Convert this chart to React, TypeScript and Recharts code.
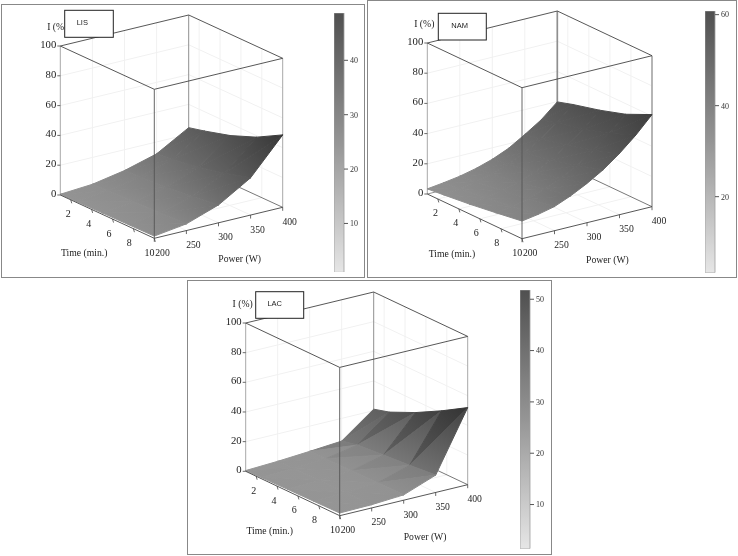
import { Bar, BarChart, Scatter, ScatterChart, XAxis, YAxis } from "recharts"

const WIDTH = 738
const HEIGHT = 556

const TIMES = [1, 2.5, 5, 7.5, 10]
const POWERS = [200, 250, 300, 350, 400]
const NAM_POWERS = [200, 225, 250, 275, 300, 325, 350, 375, 400]
const TIME_TICKS = [2, 4, 6, 8, 10]
const POWER_TICKS = [200, 250, 300, 350, 400]
const I_TICKS = [0, 20, 40, 60, 80, 100]

const LIS_VALUES = [
  [0.5, 2, 6, 12, 24.4],
  [0.7, 2.5, 6.5, 13, 27],
  [1, 3, 7.5, 16, 32],
  [1.2, 3.7, 9.5, 20, 39],
  [1.5, 4.5, 12, 25, 48.6],
]
const NAM_VALUES = [
  [3.4, 4.8, 6.5, 9, 12.4, 17, 23.5, 30.5, 39.8],
  [4.5, 5.8, 7.8, 10.2, 14, 19, 25.5, 33.5, 43],
  [6.5, 7.8, 10, 13, 17, 22.5, 29.5, 37.5, 47.5],
  [9, 10.5, 13, 16.5, 21, 27, 34.5, 43, 53],
  [11.7, 13.5, 16, 20.5, 26, 32.5, 40.6, 50, 61],
]
const LAC_VALUES = [
  [0.5, 1.5, 3, 4.7, 21],
  [0.8, 1.6, 3, 7, 24],
  [1.2, 1.8, 3.2, 8.6, 32],
  [1.5, 1.9, 3.4, 10, 41.5],
  [1.8, 2.2, 3.6, 11.7, 52],
]

const LIS_BAR_TICKS = [10, 20, 30, 40]
const NAM_BAR_TICKS = [20, 40, 60]
const LAC_BAR_TICKS = [10, 20, 30, 40, 50]

const SERIF = "'Liberation Serif', 'Times New Roman', serif"
const SANS = "'Liberation Sans', Arial, sans-serif"

function shade(value, peak, slope) {
  const base = 153 - 73 * (value / peak)
  return base / (1 + 0.6 * slope)
}

function grey(v) {
  const c = Math.round(Math.max(0, Math.min(255, v)))
  return `rgb(${c},${c},${c})`
}

function buildScene(p) {
  const project = (time, power, i) => {
    const u = (power - 200) / 200
    const v = (time - 1) / 9
    return {
      x: p.left.x + v * (p.front.x - p.left.x) + u * (p.right.x - p.front.x),
      y: p.left.y + v * (p.front.y - p.left.y) + u * (p.right.y - p.front.y) - (i * p.depth) / 100,
    }
  }
  const seg = (a, b, stroke, width) => ({
    x: (a.x + b.x) / 2,
    y: (a.y + b.y) / 2,
    dx: (b.x - a.x) / 2,
    dy: (b.y - a.y) / 2,
    stroke,
    width,
  })

  const walls = []
  const FAINT = "#f1f1f1"
  I_TICKS.slice(1, 5).forEach((i) => {
    walls.push(seg(project(1, 200, i), project(1, 400, i), FAINT, 1))
    walls.push(seg(project(1, 400, i), project(10, 400, i), FAINT, 1))
  })
  POWER_TICKS.slice(1, 4).forEach((w) => {
    walls.push(seg(project(1, w, 0), project(1, w, 100), FAINT, 1))
    walls.push(seg(project(1, w, 0), project(10, w, 0), FAINT, 1))
  })
  TIME_TICKS.slice(0, 4).forEach((t) => {
    walls.push(seg(project(t, 400, 0), project(t, 400, 100), FAINT, 1))
    walls.push(seg(project(t, 200, 0), project(t, 400, 0), FAINT, 1))
  })
  walls.push(seg(project(1, 200, 0), project(1, 200, 100), "#a8a8a8", 1))
  walls.push(seg(project(10, 400, 0), project(10, 400, 100), "#a8a8a8", p.sideWidth))
  walls.push(seg(project(1, 400, 0), project(1, 400, 100), "#8f8f8f", p.sideWidth))
  walls.push(seg(project(1, 200, 0), project(1, 400, 0), "#777777", 0.8))
  walls.push(seg(project(1, 400, 0), project(10, 400, 0), "#555555", 0.8))

  const powers = p.powers
  const peak = Math.max(...p.values.flat())
  const step = powers[1] - powers[0]
  const pSlope = (r, c) => {
    const row = p.values[r]
    const left = c > 0 ? row[c] - row[c - 1] : row[c + 1] - row[c]
    const right = c < powers.length - 1 ? row[c + 1] - row[c] : row[c] - row[c - 1]
    return ((left + right) / 2) * (2 / step) * p.vertexPull
  }
  const facets = []
  for (let r = 0; r < TIMES.length - 1; r++) {
    const dv = ((TIMES[r + 1] - TIMES[r]) / 9) * 100
    for (let c = powers.length - 2; c >= 0; c--) {
      const corner = (ri, ci) => {
        const value = p.values[ri][ci]
        const slope = pSlope(ri, ci)
        return { ...project(TIMES[ri], powers[ci], value), value, slope }
      }
      const a = corner(r, c)
      const b = corner(r + 1, c)
      const d = corner(r, c + 1)
      const e = corner(r + 1, c + 1)
      const upperSlope = p.pull * (d.value - a.value) * (2 / step) + (p.lean * (e.value - d.value)) / dv
      const lowerSlope = p.pull * (e.value - b.value) * (2 / step) + (p.lean * (b.value - a.value)) / dv
      facets.push(makeFacet([a, d, e], peak, upperSlope, p.facetMix))
      facets.push(makeFacet([a, b, e], peak, lowerSlope, p.facetMix))
    }
  }

  const INK = "#444444"
  const front = [
    seg(project(1, 200, 100), project(10, 200, 100), INK, 0.9),
    seg(project(10, 200, 100), project(10, 400, 100), INK, 0.9),
    seg(project(10, 400, 100), project(1, 400, 100), INK, 0.9),
    seg(project(1, 400, 100), project(1, 200, 100), INK, 0.9),
    seg(project(10, 200, 0), project(10, 200, 100), "#555555", 0.9),
    seg(project(1, 200, 0), project(10, 200, 0), INK, 0.9),
    seg(project(10, 200, 0), project(10, 400, 0), INK, 0.9),
  ]
  TIME_TICKS.forEach((t) => {
    const at = project(t, 200, 0)
    front.push(seg(at, { x: at.x + 1, y: at.y + 3.5 }, INK, 0.8))
  })
  POWER_TICKS.forEach((w) => {
    const at = project(10, w, 0)
    front.push(seg(at, { x: at.x, y: at.y + 3.5 }, INK, 0.8))
  })
  I_TICKS.forEach((i) => {
    const at = project(1, 200, i)
    front.push(seg(at, { x: at.x - 3, y: at.y }, INK, 0.8))
  })

  const labels = []
  I_TICKS.forEach((i) => {
    const at = project(1, 200, i)
    labels.push({ x: at.x - 4, y: at.y - 2, text: String(i), anchor: "end", size: 10.7 })
  })
  TIME_TICKS.forEach((t) => {
    const at = project(t, 200, 0)
    labels.push({ x: at.x - 1.8 - t * 0.3, y: at.y + 14, text: String(t), anchor: "middle", size: 10 })
  })
  POWER_TICKS.forEach((w) => {
    const at = project(10, w, 0)
    labels.push({ x: at.x + (w === 200 ? 8.2 : 7), y: at.y + 14, text: String(w), anchor: "middle", size: 9.7 })
  })
  labels.push({ x: p.front.x - 70, y: p.front.y + 14.4, text: "Time (min.)", anchor: "middle", size: 9.7 })
  labels.push({ x: p.front.x + 85.4, y: p.front.y + 20.4, text: "Power (W)", anchor: "middle", size: 9.7 })
  labels.push({ x: p.left.x - 3, y: project(1, 200, 100).y - 19.3, text: "I (%)", anchor: "middle", size: 9.7 })

  return { walls, facets, front, labels }
}

function makeFacet(verts, peak, facetSlope, mix) {
  const [a, b, c] = verts
  const cx = (a.x + b.x + c.x) / 3
  const cy = (a.y + b.y + c.y) / 3
  const vals = verts.map((q) => shade(q.value, peak, mix * facetSlope + (1 - mix) * q.slope))
  const det = (b.x - a.x) * (c.y - a.y) - (c.x - a.x) * (b.y - a.y)
  const gx = ((vals[1] - vals[0]) * (c.y - a.y) - (vals[2] - vals[0]) * (b.y - a.y)) / det
  const gy = ((vals[2] - vals[0]) * (b.x - a.x) - (vals[1] - vals[0]) * (c.x - a.x)) / det
  const lo = vals.indexOf(Math.min(...vals))
  const hi = vals.indexOf(Math.max(...vals))
  const span = vals[hi] - vals[lo]
  const len = gx * gx + gy * gy || 1
  return {
    x: cx,
    y: cy,
    verts: verts.map((q) => ({ dx: q.x - cx, dy: q.y - cy })),
    from: { dx: verts[lo].x - cx, dy: verts[lo].y - cy },
    to: { dx: verts[lo].x - cx + (gx * span) / len, dy: verts[lo].y - cy + (gy * span) / len },
    loColor: grey(vals[lo]),
    hiColor: grey(vals[hi]),
  }
}

function SegmentShape({ cx, cy, payload }) {
  return (
    <line
      x1={cx - payload.dx}
      y1={cy - payload.dy}
      x2={cx + payload.dx}
      y2={cy + payload.dy}
      stroke={payload.stroke}
      strokeWidth={payload.width}
    />
  )
}

function facetShape(prefix) {
  return function FacetShape({ cx, cy, payload, index }) {
    const id = `${prefix}-facet-${index}`
    const points = payload.verts.map((v) => `${cx + v.dx},${cy + v.dy}`).join(" ")
    return (
      <g>
        <defs>
          <linearGradient
            id={id}
            gradientUnits="userSpaceOnUse"
            x1={cx + payload.from.dx}
            y1={cy + payload.from.dy}
            x2={cx + payload.to.dx}
            y2={cy + payload.to.dy}
          >
            <stop offset="0%" stopColor={payload.loColor} />
            <stop offset="100%" stopColor={payload.hiColor} />
          </linearGradient>
        </defs>
        <polygon points={points} fill={`url(#${id})`} stroke={`url(#${id})`} strokeWidth={1} strokeLinejoin="round" />
      </g>
    )
  }
}

function LabelShape({ cx, cy, payload }) {
  return (
    <text
      x={cx}
      y={cy}
      textAnchor={payload.anchor}
      dominantBaseline="central"
      fontFamily={SERIF}
      fontSize={payload.size}
      fill="#222222"
    >
      {payload.text}
    </text>
  )
}

function boxShape(p) {
  return function BoxShape({ cx, cy }) {
    const { w, h, textX, textY } = p.box
    return (
      <g>
        <rect x={cx - w / 2} y={cy - h / 2} width={w} height={h} fill="#ffffff" stroke="#222222" strokeWidth={1} />
        <text
          x={cx + textX}
          y={cy + textY}
          textAnchor="middle"
          dominantBaseline="central"
          fontFamily={SANS}
          fontSize={7.5}
          fill="#222222"
        >
          {p.name}
        </text>
      </g>
    )
  }
}

function Surface({ p }) {
  const scene = buildScene(p)
  const boxPoint = [{ x: p.box.x + p.box.w / 2, y: p.box.y + p.box.h / 2 }]
  return (
    <div style={{ position: "absolute", left: 0, top: 0, willChange: "transform" }}>
      <ScatterChart width={WIDTH} height={HEIGHT} margin={{ top: 0, right: 0, bottom: 0, left: 0 }}>
        <XAxis type="number" dataKey="x" domain={[0, WIDTH]} hide />
        <YAxis type="number" dataKey="y" domain={[0, HEIGHT]} reversed hide />
        <Scatter data={scene.walls} shape={SegmentShape} isAnimationActive={false} />
        <Scatter data={scene.facets} shape={facetShape(p.name)} isAnimationActive={false} />
        <Scatter data={scene.front} shape={SegmentShape} isAnimationActive={false} />
        <Scatter data={scene.labels} shape={LabelShape} isAnimationActive={false} />
        <Scatter data={boxPoint} shape={boxShape(p)} isAnimationActive={false} />
      </ScatterChart>
    </div>
  )
}

function ColorBar({ p }) {
  const { x, y, h, min, max, ticks } = p.bar
  const data = [{ name: p.name, range: [min, max] }]
  return (
    <div style={{ position: "absolute", left: x, top: y, willChange: "transform" }}>
      <BarChart
        width={34}
        height={h}
        data={data}
        barCategoryGap={0}
        margin={{ top: 0, right: 0, bottom: 0, left: 0 }}
      >
        <defs>
          <linearGradient id={`${p.name}-bar`} x1="0" y1="0" x2="0" y2="1">
            <stop offset="0%" stopColor="#505050" />
            <stop offset="50%" stopColor="#959595" />
            <stop offset="100%" stopColor="#e6e6e6" />
          </linearGradient>
        </defs>
        <XAxis dataKey="name" hide />
        <YAxis
          orientation="right"
          width={24}
          type="number"
          domain={[min, max]}
          ticks={ticks}
          interval={0}
          allowDataOverflow
          axisLine={false}
          tickSize={4}
          tickLine={{ stroke: "#555555" }}
          tick={{ fill: "#333333", fontSize: 8, fontFamily: SERIF }}
        />
        <Bar dataKey="range" fill={`url(#${p.name}-bar)`} stroke="#a0a0a0" strokeWidth={0.8} isAnimationActive={false} />
      </BarChart>
    </div>
  )
}

const PANELS = [
  {
    name: "LIS",
    values: LIS_VALUES,
    powers: POWERS,
    frame: { x: 1, y: 4, w: 364, h: 274 },
    left: { x: 60.3, y: 195 },
    front: { x: 154.3, y: 238.3 },
    right: { x: 282.7, y: 207.3 },
    depth: 149,
    facetMix: 0.12,
    vertexPull: 0.75,
    pull: 0.8,
    lean: 1,
    sideWidth: 1,
    box: { x: 64.7, y: 10.3, w: 48.6, h: 27, textX: -6.7, textY: -1.1 },
    bar: { x: 334.3, y: 13.3, h: 259.4, min: 1, max: 48.7, ticks: LIS_BAR_TICKS },
  },
  {
    name: "NAM",
    values: NAM_VALUES,
    powers: NAM_POWERS,
    frame: { x: 367, y: 0, w: 370, h: 278 },
    left: { x: 427.3, y: 194 },
    front: { x: 522, y: 238.7 },
    right: { x: 652, y: 206.7 },
    depth: 151,
    facetMix: 0,
    vertexPull: 0.55,
    pull: 1,
    lean: 0,
    sideWidth: 1.7,
    box: { x: 438.3, y: 13.3, w: 48, h: 26.7, textX: -2.6, textY: -1.3 },
    bar: { x: 704.7, y: 11, h: 261.7, min: 3.3, max: 60.8, ticks: NAM_BAR_TICKS },
  },
  {
    name: "LAC",
    values: LAC_VALUES,
    powers: POWERS,
    frame: { x: 187, y: 280, w: 365, h: 275 },
    left: { x: 245.7, y: 471.3 },
    front: { x: 339.7, y: 515.7 },
    right: { x: 467.7, y: 484.7 },
    depth: 148.3,
    facetMix: 1,
    vertexPull: 1,
    pull: 0.15,
    lean: 1.9,
    sideWidth: 1,
    box: { x: 255.7, y: 291.7, w: 48, h: 26.6, textX: -5, textY: -1.3 },
    bar: { x: 519.7, y: 290, h: 258.7, min: 1.4, max: 51.8, ticks: LAC_BAR_TICKS },
  },
]

export default function App() {
  return (
    <div style={{ position: "absolute", left: 0, top: 0, width: WIDTH, height: HEIGHT, background: "#fff", overflow: "hidden" }}>
      {PANELS.map((p) => (
        <div
          key={p.name}
          style={{
            position: "absolute",
            left: p.frame.x,
            top: p.frame.y,
            width: p.frame.w,
            height: p.frame.h,
            border: "1px solid #888",
            boxSizing: "border-box",
          }}
        />
      ))}
      {PANELS.map((p) => (
        <Surface key={p.name} p={p} />
      ))}
      {PANELS.map((p) => (
        <ColorBar key={p.name} p={p} />
      ))}
    </div>
  )
}
